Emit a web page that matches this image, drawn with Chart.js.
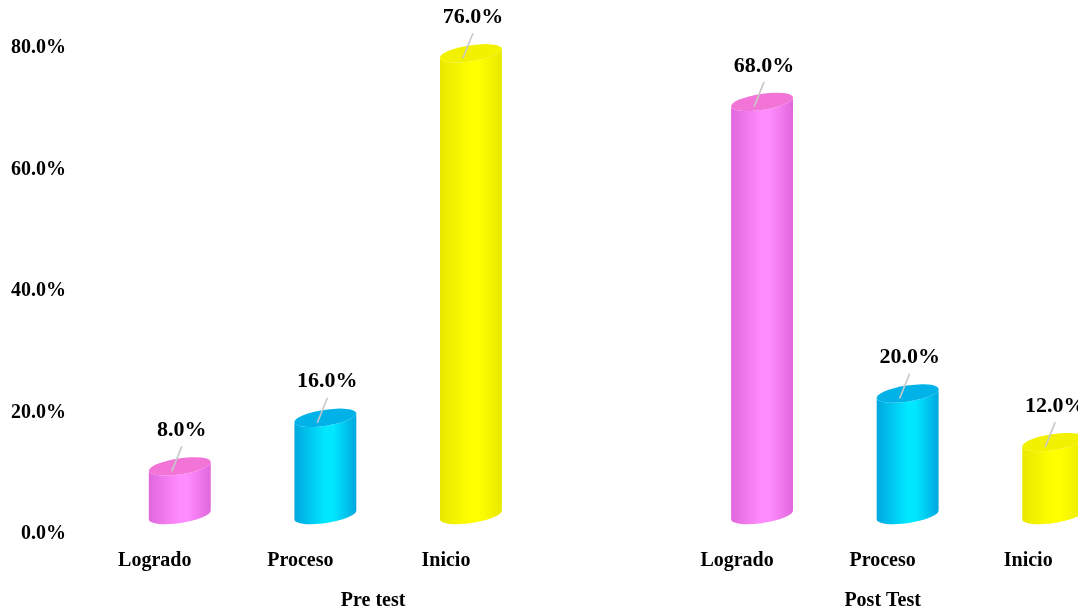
<!DOCTYPE html>
<html>
<head>
<meta charset="utf-8">
<script src="https://cdn.jsdelivr.net/npm/chart.js@4.4.1/dist/chart.umd.min.js"></script>
<style>
  html, body { margin: 0; padding: 0; background: #fff; overflow: hidden; }
  #frame { width: 1078px; height: 611px; overflow: hidden; position: relative; }
  #wrap { width: 1126px; height: 611px; position: relative; }
</style>
</head>
<body>
<div id="frame"><div id="wrap"><canvas id="myChart"></canvas></div></div>
<script>
// categorias y valores (%)
var categorias = ['Logrado', 'Proceso', 'Inicio'];
var grupos = ['Pre test', 'Post Test'];
var preTest = [8.0, 16.0, 76.0];
var postTest = [68.0, 20.0, 12.0];
var yTicks = [0, 20, 40, 60, 80];

// colores de los cilindros: borde, brillo, tapa
var colores = {
  Logrado: { edge: '#e066dc', light: '#ff8cff', top: '#f274d6' },
  Proceso: { edge: '#00a6df', light: '#00e8ff', top: '#00b2e8' },
  Inicio:  { edge: '#e8e800', light: '#ffff00', top: '#f2f200' }
};

const FONT = "'Liberation Serif', 'Times New Roman', serif";

// etiquetas del eje x: el grupo "Pre test" lleva un hueco vacio al final
var labels = categorias.concat(['']).concat(categorias);
var valores = preTest.concat([null]).concat(postTest);
var spans = [[0, categorias.length], [categorias.length + 1, 2 * categorias.length]];

const cylinders = {
  id: 'cylinders',
  beforeDatasetDraw() {
    return false; // no dibujar las barras planas
  },
  afterDatasetsDraw(chart) {
    const ctx = chart.ctx;
    const meta = chart.getDatasetMeta(0);
    const rot = -0.15;
    meta.data.forEach((bar, i) => {
      const v = valores[i];
      if (v === null || v === undefined) return;
      const c = colores[labels[i]];
      const cx = bar.x, top = bar.y, base = bar.base;
      const rx = bar.width / 2, ry = 8;

      ctx.save();
      // cuerpo
      const g = ctx.createLinearGradient(cx - rx, 0, cx + rx, 0);
      g.addColorStop(0, c.edge);
      g.addColorStop(0.5, c.light);
      g.addColorStop(0.62, c.light);
      g.addColorStop(1, c.edge);
      ctx.beginPath();
      ctx.ellipse(cx, base, rx, ry, rot, Math.PI, 0, true);
      ctx.ellipse(cx, top, rx, ry, rot, 0, Math.PI, false);
      ctx.closePath();
      ctx.fillStyle = g;
      ctx.fill();
      // tapa
      ctx.beginPath();
      ctx.ellipse(cx, top, rx, ry, rot, 0, Math.PI * 2);
      ctx.fillStyle = c.top;
      ctx.fill();

      // linea guia + etiqueta
      ctx.strokeStyle = '#c8c8c8';
      ctx.lineWidth = 1.6;
      ctx.beginPath();
      ctx.moveTo(cx - 8, top + 5);
      ctx.lineTo(cx + 2, top - 20);
      ctx.stroke();

      ctx.fillStyle = '#000';
      ctx.font = 'bold 22px ' + FONT;
      ctx.textAlign = 'center';
      ctx.textBaseline = 'middle';
      ctx.fillText(v.toFixed(1) + '%', cx + 2, top - 36);
      ctx.restore();
    });

    // titulos de grupo
    const xs = chart.scales.x;
    ctx.save();
    ctx.fillStyle = '#000';
    ctx.font = 'bold 20px ' + FONT;
    ctx.textAlign = 'center';
    ctx.textBaseline = 'middle';
    grupos.forEach((g, k) => {
      const x = (xs.getPixelForValue(spans[k][0]) + xs.getPixelForValue(spans[k][1])) / 2 - 25;
      ctx.fillText(g, x, 601);
    });
    ctx.restore();
  }
};

const ctx = document.getElementById('myChart');

new Chart(ctx, {
  type: 'bar',
  data: {
    labels: labels,
    datasets: [{
      data: valores,
      backgroundColor: labels.map(l => l ? colores[l].light : 'transparent'),
      barPercentage: 0.43,
      categoryPercentage: 1
    }]
  },
  options: {
    responsive: true,
    maintainAspectRatio: false,
    animation: false,
    layout: { padding: { top: 29, bottom: 39, left: 0, right: 0 } },
    plugins: {
      legend: { display: false },
      tooltip: { enabled: false }
    },
    scales: {
      x: {
        grid: { display: false, drawTicks: false },
        border: { display: false },
        ticks: {
          color: '#000',
          padding: 34,
          labelOffset: -25,
          maxRotation: 0,
          autoSkip: false,
          font: { family: FONT, size: 20, weight: 'bold' }
        },
        afterFit: s => { s.height = 57; }
      },
      y: {
        min: 0,
        max: 80,
        afterBuildTicks: s => { s.ticks = yTicks.map(v => ({ value: v })); },
        grid: { display: false, drawTicks: false },
        border: { display: false },
        ticks: {
          color: '#000',
          padding: 41,
          labelOffset: 19,
          callback: v => v.toFixed(1) + '%',
          font: { family: FONT, size: 20, weight: 'bold' }
        },
        afterFit: s => { s.width = 107; s.paddingTop = 0; s.paddingBottom = 0; }
      }
    }
  },
  plugins: [cylinders]
});
</script>
</body>
</html>
